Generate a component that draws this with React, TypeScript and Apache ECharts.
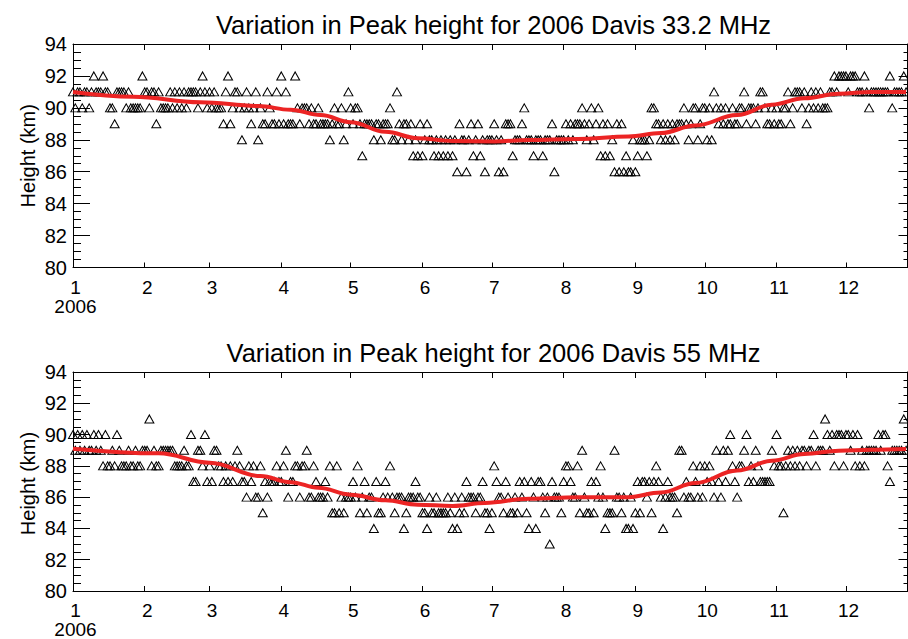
import React, { useEffect, useRef } from "react";
import * as echarts from "echarts";

// x axis: day of year 2006 (0 = 1 Jan); ticks at the first day of each month
const monthStarts = [0, 31, 59, 90, 120, 151, 181, 212, 243, 273, 304, 334];
const monthLabels = ["1", "2", "3", "4", "5", "6", "7", "8", "9", "10", "11", "12"];
const yearLabel = "2006";
const xMax = 360.6;
const yMin = 80;
const yMax = 94;
const yStep = 2;

const title33 = "Variation in Peak height for 2006 Davis 33.2 MHz";
const title55 = "Variation in Peak height for 2006 Davis 55 MHz";
const yName = "Height (km)";

// ---- Davis 33.2 MHz daily peak heights (km), one array per month ----
const h33Jan = [91,90,91,91,90,91,91,90,91,92,91,91,91,92,91,91,90,90,89,91,91,91,91,90,91,90,90,90,90,90,92];
const h33Feb = [91,91,90,91,91,89,91,90,90,90,90,91,90,91,90,91,90,91,90,91,91,91,91,90,91,92,91,90];
const h33Mar = [91,90,91,90,90,90,89,91,92,89,90,91,91,90,88,90,91,90,89,90,91,88,90,89,89,91,90,89,89,91,89];
const h33Apr = [92,89,91,89,89,89,92,90,89,90,90,90,89,90,89,89,90,89,89,89,89,88,89,90,89,89,90,88,89,91];
const h33May = [90,89,90,90,89,87,89,89,89,89,88,89,89,88,89,89,89,90,88,88,91,89,88,89,89,88,89,87,88,87,89];
const h33Jun = [87,88,89,88,88,87,88,87,88,87,88,87,88,87,88,86,89,88,88,86,88,89,87,88,89,87,88,86,88,88];
const h33Jul = [88,89,88,86,88,86,89,89,89,87,88,88,88,89,90,88,88,88,87,88,88,88,87,88,88,88,89,86,88,88,88];
const h33Aug = [88,89,88,89,88,89,89,89,90,89,88,89,90,88,89,90,87,89,87,89,87,88,86,89,86,89,86,87,86,86,88];
const h33Sep = [86,87,88,88,88,87,88,90,90,89,89,88,89,88,89,88,89,88,89,89,89,90,89,88,89,90,90,88,89,90];
const h33Oct = [90,88,90,88,91,90,89,90,89,90,89,89,90,89,89,90,90,91,89,90,90,90,89,90,91,91,90,89,89,90,89];
const h33Nov = [90,89,89,90,90,91,89,90,91,91,91,90,91,89,90,91,90,91,90,91,90,90,90,91,91,92,91,92,92,92];
const h33Dec = [92,91,92,92,92,91,91,91,92,91,90,91,91,91,91,91,91,91,91,92,90,91,91,91,91,92,91];
const fit33Days = [0, 26, 55, 80, 94, 107, 120, 135, 149, 164, 182, 197, 218, 240, 254, 269, 287, 302, 316, 331, 345, 360];
const fit33Vals = [91.0, 90.7, 90.35, 90.12, 89.88, 89.55, 89.1, 88.5, 88.1, 87.92, 87.9, 87.98, 88.05, 88.2, 88.42, 88.9, 89.55, 90.2, 90.6, 90.88, 91.0, 91.0];

// ---- Davis 55 MHz daily peak heights (km), one array per month ----
const h55Jan = [90,89,90,89,90,89,90,89,89,90,89,90,89,88,90,88,88,89,88,90,89,88,88,88,89,88,88,89,88,88,89];
const h55Feb = [89,89,91,88,89,88,88,89,89,89,89,89,89,88,88,88,88,89,88,88,90,87,87,89,89,88,90,87];
const h55Mar = [88,87,89,89,88,88,87,88,87,88,87,88,89,88,87,87,86,88,87,88,86,86,88,85,87,86,87,87,87,88,87];
const h55Apr = [87,88,89,86,87,87,88,88,86,88,88,89,86,86,88,87,86,86,86,87,86,88,85,85,88,85,86,85,86,86];
const h55May = [86,87,86,88,85,86,87,85,86,86,84,87,85,85,86,87,86,88,86,85,86,86,86,84,85,86,86,86,87,86,86];
const h55Jun = [85,85,84,86,85,85,86,85,85,85,85,86,85,84,86,84,85,86,85,87,86,86,86,85,86,86,87,85,85,84];
const h55Jul = [85,88,87,86,86,85,87,86,85,85,86,85,87,86,87,85,84,87,86,84,87,87,86,85,86,83,87,86,86,86,85];
const h55Aug = [87,88,88,87,86,86,88,85,89,86,85,85,87,85,87,86,88,86,84,85,85,85,89,86,86,85,86,84,84,86,84];
const h55Sep = [85,87,85,87,87,86,87,85,87,88,87,86,84,86,87,86,86,86,85,89,89,86,87,86,86,88,87,86,88,86];
const h55Oct = [88,87,88,87,86,89,87,86,89,87,89,90,88,87,86,88,88,89,90,87,88,87,89,88,87,87,87,87,87,89,88];
const h55Nov = [90,88,88,85,88,89,88,89,88,89,88,89,89,88,89,89,90,88,89,89,89,91,90,89,90,88,90,90,90,88];
const h55Dec = [90,90,89,90,88,90,88,89,88,89,89,89,89,89,90,89,90,90,88,87,89,89,89,89,89,91,89];
const fit55Days = [0, 37, 59, 81, 94, 106, 120, 135, 149, 164, 178, 197, 218, 240, 254, 269, 287, 302, 316, 331, 345, 360];
const fit55Vals = [89.1, 88.8, 88.2, 87.35, 86.96, 86.6, 86.16, 85.8, 85.52, 85.44, 85.63, 85.9, 86.0, 86.0, 86.3, 86.9, 87.7, 88.33, 88.76, 88.97, 89.03, 89.08];

const h33Months = [h33Jan, h33Feb, h33Mar, h33Apr, h33May, h33Jun, h33Jul, h33Aug, h33Sep, h33Oct, h33Nov, h33Dec];
const h55Months = [h55Jan, h55Feb, h55Mar, h55Apr, h55May, h55Jun, h55Jul, h55Aug, h55Sep, h55Oct, h55Nov, h55Dec];

const FONT = "'Liberation Sans', Arial, Helvetica, sans-serif";

const toPairs = (months: number[][]) =>
  months.flatMap((arr, m) => arr.map((v, i) => [monthStarts[m] + i, v]));
const zip = (xs: number[], ys: number[]) => xs.map((x, i) => [x, ys[i]]);

const xFormatter = (v: number) => {
  const idx = monthStarts.indexOf(Math.round(v));
  if (idx < 0) return "";
  return idx === 0 ? monthLabels[0] + "\n" + yearLabel : monthLabels[idx];
};

const line = () => ({ color: "#000", width: 1, type: "solid" });

const grids = [
  { top: 44, height: 223.5 },
  { top: 372, height: 223 },
];

const makeXBottom = (gi: number) => ({
  type: "value", gridIndex: gi, position: "bottom", min: 0, max: xMax,
  axisLine: { show: true, onZero: false, lineStyle: line() },
  axisTick: { show: true, inside: true, length: 5, customValues: monthStarts, lineStyle: line() },
  axisLabel: {
    show: true, customValues: monthStarts, formatter: xFormatter, color: "#000",
    fontSize: 19, fontFamily: FONT, lineHeight: 19, margin: 10, padding: [0, 0, 0, 5],
  },
  splitLine: { show: false },
});

const makeXTop = (gi: number) => ({
  type: "value", gridIndex: gi, position: "top", min: 0, max: xMax,
  axisLine: { show: true, onZero: false, lineStyle: line() },
  axisTick: { show: true, inside: true, length: 6, customValues: monthStarts, lineStyle: line() },
  axisLabel: { show: false },
  splitLine: { show: false },
});

const makeYLeft = (gi: number) => ({
  type: "value", gridIndex: gi, position: "left", min: yMin, max: yMax, interval: yStep,
  axisLine: { show: true, onZero: false, lineStyle: line() },
  axisTick: { show: true, inside: true, length: 17, lineStyle: line() },
  minorTick: { show: true, splitNumber: 4, length: 8, lineStyle: line() },
  axisLabel: { show: true, color: "#000", fontSize: 20, fontFamily: FONT, margin: 6 },
  splitLine: { show: false },
  minorSplitLine: { show: false },
});

const makeYRight = (gi: number) => ({
  type: "value", gridIndex: gi, position: "right", min: yMin, max: yMax, interval: yStep,
  axisLine: { show: true, onZero: false, lineStyle: line() },
  axisTick: { show: true, inside: true, length: 9, lineStyle: line() },
  minorTick: { show: true, splitNumber: 4, length: 4, lineStyle: line() },
  axisLabel: { show: false },
  splitLine: { show: false },
  minorSplitLine: { show: false },
});

const scatterSeries = (gi: number, data: number[][]) => ({
  type: "scatter", xAxisIndex: gi * 2, yAxisIndex: gi * 2, data,
  symbol: "triangle", symbolSize: [9, 8],
  itemStyle: { color: "rgba(0,0,0,0)", borderColor: "#000", borderWidth: 1, opacity: 1 },
  silent: true, z: 2,
});

const fitSeries = (gi: number, data: number[][]) => ({
  type: "line", xAxisIndex: gi * 2, yAxisIndex: gi * 2, data,
  smooth: 0.4, smoothMonotone: "x", showSymbol: false, symbol: "none",
  lineStyle: { color: "#ec2424", width: 4 }, silent: true, z: 3,
});

export default function App() {
  const ref = useRef<HTMLDivElement>(null);
  useEffect(() => {
    if (!ref.current) return;
    const chart = echarts.init(ref.current, undefined, { renderer: "svg" });
    const titles = [title33, title55];
    chart.setOption({
      animation: false,
      backgroundColor: "#fff",
      grid: grids.map((g) => ({ left: 73, right: 0.5, top: g.top, height: g.height })),
      xAxis: [makeXBottom(0), makeXTop(0), makeXBottom(1), makeXTop(1)],
      yAxis: [makeYLeft(0), makeYRight(0), makeYLeft(1), makeYRight(1)],
      series: [
        scatterSeries(0, toPairs(h33Months)),
        fitSeries(0, zip(fit33Days, fit33Vals)),
        scatterSeries(1, toPairs(h55Months)),
        fitSeries(1, zip(fit55Days, fit55Vals)),
      ],
      graphic: [
        ...grids.map((g, i) => ({
          type: "text", x: 493.5, y: g.top - 19.5,
          style: { text: titles[i], font: `25.5px ${FONT}`, fill: "#000", textAlign: "center", textVerticalAlign: "middle" },
        })),
        ...grids.map((g) => ({
          type: "text", x: 28, y: g.top + g.height / 2, rotation: Math.PI / 2,
          style: { text: yName, font: `20px ${FONT}`, fill: "#000", textAlign: "center", textVerticalAlign: "middle" },
        })),
      ],
    });
    return () => chart.dispose();
  }, []);
  return (
    <div ref={ref} style={{ position: "absolute", left: 0, top: 0, width: 908, height: 639, background: "#fff" }} />
  );
}
